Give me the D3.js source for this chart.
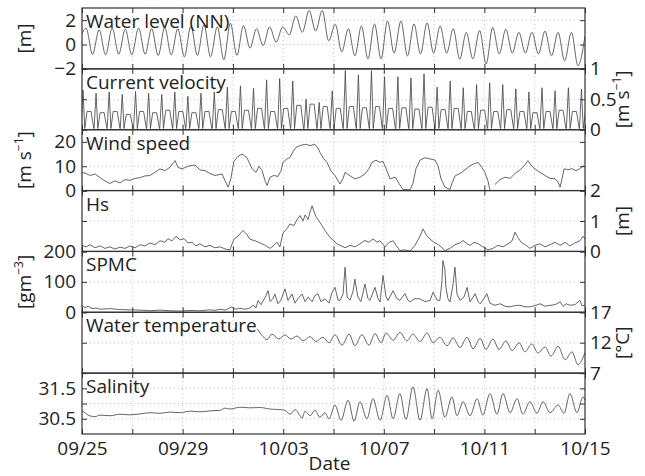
<!DOCTYPE html>
<html>
<head>
<meta charset="utf-8">
<script src="https://cdn.jsdelivr.net/npm/d3@7"></script>
<style>
body { margin: 0; background: #fff; }
svg { display: block; font-family: "Open Sans", sans-serif; }
</style>
</head>
<body>
<svg id="chart" width="645" height="476"></svg>
<script>
// time axis: days since 09/25
const tickDays = [0, 2, 4, 6, 8, 10, 12, 14, 16, 18, 20];
const labelDays = [0, 4, 8, 12, 16, 20];
const dateLabels = ['09/25', '09/29', '10/03', '10/07', '10/11', '10/15'];

// water level (NN) [m]: high and low waters
const wlHighDay = [0.16,0.68,1.20,1.72,2.25,2.77,3.29,3.81,4.33,4.85,5.38,5.90,6.42,6.94,7.46,7.98,8.50,9.03,9.55,10.07,10.59,11.11,11.63,12.15,12.68,13.20,13.72,14.24,14.76,15.28,15.81,16.33,16.85,17.37,17.89,18.41,18.93,19.46];
const wlHigh = [1.35,1.2,1.35,1.25,1.35,1.3,1.4,1.3,1.5,1.6,1.45,1.75,1.55,1.3,1.45,1.45,2.35,2.8,2.8,1.66,1.3,1.52,1.69,1.93,1.93,1.69,1.77,1.52,1.3,1.0,1.15,1.4,1.25,1.0,1.0,1.1,1.0,1.0];
const wlLowDay = [0.42,0.94,1.46,1.98,2.51,3.03,3.55,4.07,4.59,5.11,5.64,6.16,6.68,7.20,7.72,8.24,8.76,9.29,9.81,10.33,10.85,11.37,11.89,12.41,12.94,13.46,13.98,14.50,15.02,15.54,16.07,16.59,17.11,17.63,18.15,18.67,19.19,19.72];
const wlLow = [-0.8,-0.85,-0.8,-0.85,-0.8,-0.9,-0.85,-1.0,-0.9,-1.0,-1.25,-0.9,-0.3,-0.1,0.2,0.8,1.0,1.1,0.3,-0.6,-0.93,-1.18,-1.18,-0.7,-0.93,-0.77,-0.7,-0.7,-1.2,-1.18,-1.6,-0.77,-0.7,-0.7,-0.77,-0.93,-1.34,-1.75];
const wlEnds = [[0, 0.9], [20, 0.7]];

// current velocity [m/s]: flood peaks and ebb plateaus per tide
const curSpikeDay = [0.04,0.56,1.08,1.60,2.13,2.65,3.17,3.69,4.21,4.73,5.26,5.78,6.30,6.82,7.34,7.86,8.38,8.91,9.43,9.95,10.47,10.99,11.51,12.03,12.56,13.08,13.60,14.12,14.64,15.16,15.69,16.21,16.73,17.25,17.77,18.29,18.81,19.34,19.86];
const curSpike = [0.65,0.6,0.62,0.58,0.63,0.6,0.58,0.62,0.55,0.6,0.62,0.7,0.72,0.68,0.82,0.84,0.8,0.5,0.45,0.64,0.97,0.9,0.97,0.87,0.87,0.85,0.92,0.7,0.8,0.69,0.74,0.77,0.74,0.67,0.62,0.69,0.64,0.69,0.67];
const curHump = [0.3,0.28,0.3,0.25,0.3,0.28,0.32,0.3,0.28,0.3,0.33,0.3,0.32,0.35,0.3,0.35,0.4,0.42,0.38,0.35,0.38,0.36,0.38,0.35,0.36,0.34,0.37,0.33,0.35,0.3,0.32,0.3,0.33,0.3,0.28,0.3,0.32,0.3,0.3];

// wind speed [m/s] (null = gap)
const windDay = [0,0.16,0.32,0.52,0.72,0.91,1.11,1.31,1.51,1.71,1.91,2.11,2.31,2.50,2.70,2.90,3.10,3.30,3.50,3.70,3.82,3.98,4.21,4.49,4.69,4.89,5.09,5.29,5.57,5.69,5.81,5.92,6.04,6.20,6.36,6.56,6.76,6.92,7.04,7.16,7.28,7.36,7.48,7.63,7.79,7.91,7.99,8.15,8.27,8.39,8.51,8.67,8.87,9.07,9.26,9.38,9.46,9.62,9.74,9.90,10.06,10.18,10.26,10.38,10.46,10.66,10.85,11.05,11.25,11.41,11.53,11.69,11.85,11.97,12.09,12.25,12.45,12.60,12.76,13.04,13.16,13.28,13.44,13.64,13.84,14.04,14.16,14.27,14.43,14.63,14.71,14.83,15.03,15.23,15.43,15.59,15.75,15.90,16.02,16.14,16.22,16.32,16.42,16.62,16.82,17.02,17.22,17.42,17.61,17.73,17.89,18.01,18.21,18.41,18.61,18.81,18.93,19.01,19.09,19.17,19.32,19.48,19.64,19.80,19.92,20.0];
const windVal = [7.5,7.0,6.2,6.8,5.3,4.0,2.9,4.0,3.2,4.5,4.2,5.0,5.3,6.0,6.2,7.5,8.9,8.2,9.6,12.3,9.5,8.9,10.0,10.5,8.5,8.2,7.0,6.2,6.8,4.0,1.4,5.0,12.0,14.0,15.0,13.5,9.0,7.5,10.0,8.2,4.0,2.1,5.5,6.2,5.8,8.0,11.6,13.0,13.6,16.0,17.8,18.5,19.0,18.5,19.0,17.5,15.7,13.0,11.6,8.0,6.2,4.0,2.7,5.0,7.5,6.0,4.8,5.5,6.8,9.0,11.6,12.5,11.6,12.0,9.0,4.8,5.5,3.0,0.5,0.3,3.0,9.0,12.5,13.5,13.0,12.5,10.0,5.0,1.4,0.5,3.0,6.0,7.0,8.5,10.2,11.0,11.6,9.5,7.5,4.0,0.3,null,2.5,4.5,5.5,5.0,7.0,8.5,10.5,12.3,10.0,8.9,7.5,6.2,5.0,4.8,3.5,1.4,5.0,9.0,8.5,9.0,8.2,9.0,10.2,9.8];

// significant wave height Hs [m]
const hsDay = [0,0.16,0.32,0.52,0.72,0.91,1.11,1.31,1.51,1.71,1.91,2.11,2.31,2.50,2.70,2.90,3.10,3.30,3.42,3.58,3.74,3.90,4.06,4.21,4.37,4.53,4.69,4.89,5.09,5.29,5.49,5.69,5.88,6.04,6.20,6.40,6.56,6.68,6.88,7.08,7.28,7.48,7.63,7.75,7.87,7.99,8.15,8.27,8.43,8.55,8.67,8.79,8.87,8.99,9.07,9.15,9.23,9.30,9.38,9.46,9.66,9.86,10.14,10.46,10.66,10.85,11.05,11.25,11.41,11.57,11.73,11.85,12.05,12.21,12.37,12.49,12.64,12.84,13.04,13.24,13.44,13.56,13.68,13.84,14.00,14.12,14.27,14.43,14.63,14.83,15.03,15.15,15.31,15.43,15.59,15.75,15.94,16.14,16.34,16.54,16.74,16.94,17.10,17.22,17.34,17.46,17.65,17.81,18.01,18.21,18.41,18.61,18.81,19.01,19.21,19.40,19.60,19.80,19.92,20.0];
const hsVal = [0.2,0.15,0.22,0.12,0.18,0.1,0.15,0.08,0.14,0.1,0.18,0.12,0.22,0.18,0.28,0.22,0.35,0.3,0.42,0.35,0.5,0.38,0.42,0.28,0.3,0.18,0.25,0.15,0.2,0.12,0.15,0.08,0.05,0.4,0.5,0.69,0.55,0.4,0.35,0.28,0.2,0.1,0.2,0.3,0.15,0.6,0.75,0.9,0.85,1.05,1.18,1.0,1.2,1.05,1.3,1.5,1.3,1.15,1.05,0.96,0.69,0.46,0.25,0.12,0.2,0.15,0.25,0.36,0.3,0.41,0.3,0.35,0.15,0.3,0.35,0.2,0.03,0.05,0.01,0.2,0.5,0.74,0.55,0.4,0.3,0.25,0.15,0.03,0.1,0.22,0.28,0.36,0.25,0.2,0.3,0.25,0.15,0.05,0.1,0.2,0.15,0.25,0.35,0.63,0.45,0.3,0.2,0.1,0.2,0.25,0.15,0.22,0.3,0.2,0.3,0.18,0.28,0.35,0.5,0.4];

// suspended particulate matter concentration [g/m3]
const spmDay = [0,0.12,0.24,0.40,0.56,0.72,1.11,1.51,1.91,2.31,2.70,3.10,3.50,3.90,4.29,4.69,5.09,5.29,5.49,5.69,5.96,6.12,6.28,6.48,6.68,6.80,6.92,7.00,7.12,7.28,7.40,7.48,7.59,7.67,7.79,7.91,8.07,8.19,8.35,8.47,8.59,8.75,8.87,8.99,9.15,9.26,9.38,9.50,9.66,9.82,9.94,10.06,10.18,10.26,10.38,10.46,10.54,10.66,10.78,10.85,10.97,11.09,11.25,11.37,11.45,11.65,11.77,11.85,11.97,12.09,12.17,12.37,12.52,12.64,12.84,12.96,13.04,13.24,13.44,13.64,13.84,13.96,14.12,14.23,14.31,14.35,14.43,14.47,14.55,14.63,14.75,14.83,14.91,15.03,15.19,15.31,15.43,15.55,15.63,15.75,15.83,15.98,16.10,16.22,16.42,16.62,16.82,17.02,17.22,17.42,17.61,17.81,18.01,18.21,18.41,18.61,18.81,19.01,19.13,19.25,19.40,19.60,19.80,19.88,20.0];
const spmVal = [23,15,20,12,14,10,12,9,8,7,5,7,5,4,6,5,8,6,10,7,18,10,13,10,14,23,15,38,25,49,71,35,45,60,28,40,77,39,60,30,45,60,35,50,34,55,61,35,44,30,65,82,40,39,60,148,50,40,70,109,50,35,93,45,39,82,45,34,121,50,39,71,45,39,61,40,34,45,44,35,39,66,40,39,100,170,140,82,45,34,90,148,60,39,50,82,34,50,61,35,28,45,61,30,23,28,20,18,22,23,18,18,22,28,20,23,25,34,20,28,23,25,39,22,23];

// water temperature [deg C]
const tempDay = [6.96,7.16,7.36,7.55,7.83,8.07,8.31,8.55,8.79,9.07,9.30,9.58,9.82,10.06,10.34,10.62,10.85,11.13,11.41,11.65,11.89,12.09,12.37,12.64,12.92,13.16,13.44,13.72,13.96,14.23,14.51,14.75,15.03,15.31,15.55,15.83,16.06,16.34,16.58,16.86,17.10,17.38,17.61,17.89,18.13,18.41,18.65,18.93,19.21,19.48,19.72,20.0];
const tempVal = [14.3,13.2,12.5,13.4,12.6,13.3,12.6,13.1,12.3,13.0,12.2,12.9,12.0,13.3,11.6,13.4,11.5,13.3,11.6,13.5,12.0,13.6,12.4,13.7,12.3,13.4,12.2,13.6,12.0,12.9,11.5,12.8,11.2,12.9,11.0,12.7,10.9,12.6,10.9,12.3,10.7,12.0,10.5,11.8,10.3,11.3,9.8,11.4,9.2,10.5,8.4,10.4];

// salinity
const salDay = [0,0.12,0.24,0.52,0.72,1.11,1.51,1.91,2.31,2.70,3.10,3.50,3.90,4.29,4.69,5.09,5.49,5.69,5.88,6.28,6.68,7.08,7.48,7.87,8.07,8.27,8.47,8.67,8.75,8.87,9.07,9.26,9.46,9.66,9.82,10.06,10.30,10.58,10.82,11.05,11.33,11.57,11.85,12.13,12.37,12.64,12.88,13.16,13.44,13.72,13.92,14.16,14.43,14.71,14.91,15.15,15.43,15.71,15.94,16.22,16.50,16.74,17.02,17.30,17.53,17.81,18.09,18.33,18.61,18.93,19.17,19.40,19.68,19.92,20.0];
const salVal = [30.75,30.7,30.62,30.57,30.62,30.6,30.65,30.63,30.66,30.7,30.68,30.72,30.7,30.75,30.73,30.76,30.78,30.85,30.82,30.88,30.86,30.87,30.82,30.8,30.78,30.65,30.8,30.6,30.52,30.75,30.6,30.78,30.55,30.7,30.5,30.95,30.45,31.11,30.42,31.06,30.5,31.16,30.45,31.27,30.5,31.33,30.48,31.55,30.45,31.49,30.5,31.44,30.55,31.22,30.6,31.06,30.6,31.16,30.62,31.33,30.65,31.33,30.7,31.16,30.65,31.06,30.68,31.06,30.7,30.95,30.68,31.33,30.7,31.22,31.1];

// ---- build series ----
const zip = (days, vals) => days.map((d, i) => [d, vals[i]]);

const wlData = wlHighDay.map((d, i) => [d, wlHigh[i]])
    .concat(zip(wlLowDay, wlLow), wlEnds)
    .sort((a, b) => a[0] - b[0]);

const curData = [];
curSpikeDay.forEach((s, i) => {
    // slack - flood peak - slack - ebb plateau - slack
    curData.push([s - 0.08, 0.02], [s, curSpike[i]], [s + 0.07, 0.02],
                 [s + 0.16, curHump[i]], [s + 0.32, curHump[i]], [s + 0.43, 0.02]);
});

const panels = [
    { label: 'Water level (NN)', data: wlData, domain: [-2, 3], ticks: [-2, 0, 2], side: 'left', unit: ['[m]'], curve: d3.curveMonotoneX },
    { label: 'Current velocity', data: curData, domain: [0, 1], ticks: [0, 0.5, 1], side: 'right', unit: ['[m s', '\u22121', ']'], curve: d3.curveLinear },
    { label: 'Wind speed', data: zip(windDay, windVal), domain: [0, 25], ticks: [0, 10, 20], side: 'left', unit: ['[m s', '\u22121', ']'], curve: d3.curveLinear },
    { label: 'Hs', data: zip(hsDay, hsVal), domain: [0, 2], ticks: [0, 1, 2], side: 'right', unit: ['[m]'], curve: d3.curveLinear },
    { label: 'SPMC', data: zip(spmDay, spmVal), domain: [0, 200], ticks: [0, 100, 200], side: 'left', unit: ['[gm', '\u22123', ']'], curve: d3.curveLinear },
    { label: 'Water temperature', data: zip(tempDay, tempVal), domain: [7, 17], ticks: [7, 12, 17], side: 'right', unit: ['[\u00b0C]'], curve: d3.curveMonotoneX },
    { label: 'Salinity', data: zip(salDay, salVal), domain: [30, 32], ticks: [30.5, 31, 31.5], side: 'left', unit: null, curve: d3.curveMonotoneX,
      fmt: d => (d === 31 ? '' : d.toFixed(1)) }
];

// ---- layout ----
const svg = d3.select('#chart');
const plotLeft = 82, plotRight = 585, plotTop = 8, plotBottom = 434;
const panelH = (plotBottom - plotTop) / panels.length;
const x = d3.scaleLinear().domain([0, 20]).range([plotLeft, plotRight]);
const fontSize = 19;
const lineColor = '#4a4a4a';
const frameColor = '#333';

const defs = svg.append('defs');

panels.forEach((p, i) => {
    const y0 = plotTop + i * panelH;
    const y = d3.scaleLinear().domain(p.domain).range([y0 + panelH, y0]);
    const g = svg.append('g');

    defs.append('clipPath').attr('id', 'clip' + i)
        .append('rect')
        .attr('x', plotLeft).attr('y', y0)
        .attr('width', plotRight - plotLeft).attr('height', panelH);

    // dotted grid
    g.selectAll('line.vg')
        .data(tickDays.slice(1, -1))
        .join('line')
        .attr('class', 'vg')
        .attr('x1', d => x(d)).attr('x2', d => x(d))
        .attr('y1', y0).attr('y2', y0 + panelH)
        .attr('stroke', '#b0b0b0').attr('stroke-width', 0.8)
        .attr('stroke-dasharray', '1,3');

    g.selectAll('line.hg')
        .data(p.ticks.filter(t => t > p.domain[0] && t < p.domain[1]))
        .join('line')
        .attr('class', 'hg')
        .attr('x1', plotLeft).attr('x2', plotRight)
        .attr('y1', d => y(d)).attr('y2', d => y(d))
        .attr('stroke', '#b0b0b0').attr('stroke-width', 0.8)
        .attr('stroke-dasharray', '1,3');

    // series
    const line = d3.line()
        .defined(d => d[1] != null)
        .x(d => x(d[0]))
        .y(d => y(d[1]))
        .curve(p.curve);

    g.append('path')
        .datum(p.data)
        .attr('clip-path', `url(#clip${i})`)
        .attr('fill', 'none')
        .attr('stroke', lineColor)
        .attr('stroke-width', 0.85)
        .attr('stroke-linejoin', 'round')
        .attr('d', line);

    // axes with inward ticks on all four sides
    const fmt = p.fmt || (d => String(d).replace('-', '\u2212'));
    const leftAxis = d3.axisLeft(y).tickValues(p.ticks).tickSize(-5).tickPadding(6)
        .tickFormat(p.side === 'left' ? fmt : () => '');
    const rightAxis = d3.axisRight(y).tickValues(p.ticks).tickSize(-5).tickPadding(5)
        .tickFormat(p.side === 'right' ? fmt : () => '');
    const isLast = i === panels.length - 1;
    const bottomAxis = d3.axisBottom(x).tickValues(tickDays).tickSize(-5).tickPadding(8)
        .tickFormat(d => {
            const k = labelDays.indexOf(d);
            return isLast && k >= 0 ? dateLabels[k] : '';
        });
    const topAxis = d3.axisTop(x).tickValues(tickDays).tickSize(-5).tickFormat(() => '');

    const axes = [
        g.append('g').attr('transform', `translate(${plotLeft},0)`).call(leftAxis),
        g.append('g').attr('transform', `translate(${plotRight},0)`).call(rightAxis),
        g.append('g').attr('transform', `translate(0,${y0 + panelH})`).call(bottomAxis),
        g.append('g').attr('transform', `translate(0,${y0})`).call(topAxis)
    ];
    axes.forEach(a => {
        a.select('.domain').remove();
        a.attr('font-family', null).attr('font-size', fontSize);
        a.selectAll('line').attr('stroke', frameColor);
        a.selectAll('text').attr('fill', '#222');
    });

    // frame
    g.append('rect')
        .attr('x', plotLeft).attr('y', y0)
        .attr('width', plotRight - plotLeft).attr('height', panelH)
        .attr('fill', 'none')
        .attr('stroke', frameColor)
        .attr('stroke-width', 1.2);

    // panel title
    g.append('text')
        .attr('x', plotLeft + 4)
        .attr('y', y0 + 20)
        .attr('font-size', fontSize)
        .attr('fill', '#222')
        .text(p.label);

    // unit label
    if (p.unit) {
        const ux = p.side === 'left' ? 31 : 629;
        const t = g.append('text')
            .attr('transform', `translate(${ux},${y0 + panelH / 2}) rotate(-90)`)
            .attr('text-anchor', 'middle')
            .attr('font-size', fontSize)
            .attr('fill', '#222');
        t.append('tspan').text(p.unit[0]);
        if (p.unit.length > 1) {
            t.append('tspan').attr('font-size', 12).attr('dy', -8).text(p.unit[1]);
            t.append('tspan').attr('dy', 8).text(p.unit[2]);
        }
    }
});

svg.append('text')
    .attr('x', (plotLeft + plotRight) / 2 - 4)
    .attr('y', 470)
    .attr('text-anchor', 'middle')
    .attr('font-size', fontSize)
    .attr('fill', '#222')
    .text('Date');
</script>
</body>
</html>
